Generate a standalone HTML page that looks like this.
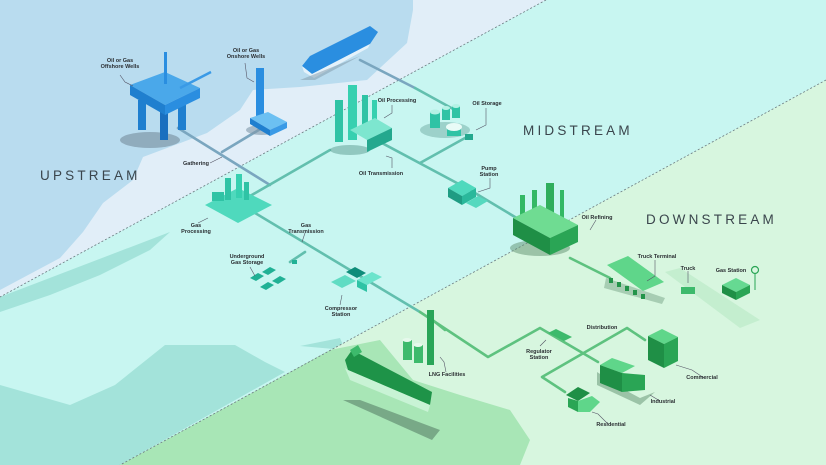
<!DOCTYPE html>
<html><head><meta charset="utf-8"><style>
html,body{margin:0;padding:0;background:#c8f6f1;}
svg{display:block}
.l{font-family:"Liberation Sans",sans-serif;font-size:5.5px;fill:#2b2f33;font-weight:bold;text-anchor:middle}
.s{font-family:"Liberation Sans",sans-serif;font-size:13.5px;fill:#3a454c;letter-spacing:3.2px}
.ld{stroke:#556;stroke-width:.6;fill:none}
</style></head><body>
<svg width="826" height="465" viewBox="0 0 826 465" xmlns="http://www.w3.org/2000/svg">
<!-- midstream base -->
<rect width="826" height="465" fill="#c8f6f1"/>
<!-- upstream zone -->
<polygon points="0,0 546,0 0,297" fill="#e1eef8"/>
<polygon points="0,0 413,0 413,10 407,43 367,80 300,87 253,90 240,110 207,133 143,157 133,180 103,203 83,232 60,258 0,290" fill="#b9dcef"/>
<!-- midstream darker areas -->
<polygon points="0,297 170,232 150,250 100,275 50,295 0,312" fill="#a3e3da"/>
<polygon points="0,385 70,405 115,385 165,345 235,345 265,362 285,372 120,465 0,465" fill="#a3e3da"/>
<polygon points="300,346 340,338 345,350" fill="#a3e3da"/>
<!-- downstream -->
<polygon points="826,80 826,465 120,465" fill="#d7f6df"/>
<polygon points="120,465 290,372 330,350 380,340 413,380 460,395 510,410 530,440 520,465" fill="#a8e6b6"/>
<!-- dashed boundaries -->
<line x1="546" y1="0" x2="0" y2="297" stroke="#6b7a80" stroke-width=".8" stroke-dasharray="2,2"/>
<line x1="826" y1="80" x2="120" y2="465" stroke="#6b7a80" stroke-width=".8" stroke-dasharray="2,2"/>

<!-- pipelines -->
<g fill="none" stroke-width="2.6" stroke-linecap="round" stroke-linejoin="round">
<path d="M178,128 L270,185" stroke="#7aa6bf"/>
<path d="M262,128 L222,152" stroke="#7aa6bf"/>
<path d="M360,60 L415,88" stroke="#7aa6bf"/>
<path d="M415,88 L455,110" stroke="#62bfae"/>
<path d="M250,196 L330,150" stroke="#62bfae"/>
<path d="M380,142 L470,190 L520,220" stroke="#62bfae"/>
<path d="M420,163 L465,138" stroke="#62bfae"/>
<path d="M250,210 L350,270 L420,312" stroke="#62bfae"/>
<path d="M290,262 L305,252" stroke="#62bfae"/>
<path d="M420,312 L488,357 L540,328 L598,362" stroke="#5ec27f"/>
<path d="M445,330 L430,318" stroke="#5ec27f"/>
<path d="M570,258 L610,278" stroke="#5ec27f"/>
<path d="M645,340 L627,328 L542,377 L565,392" stroke="#5ec27f"/>
</g>
<!-- road -->
<polygon points="665,272 680,268 760,320 740,328" fill="#bfeccb" opacity=".8"/>

<!-- offshore rig -->
<ellipse cx="150" cy="140" rx="30" ry="8" fill="#7f97a8" opacity=".7"/>
<rect x="138" y="100" width="8" height="30" fill="#1f7fcf"/>
<rect x="178" y="100" width="8" height="30" fill="#1f7fcf"/>
<rect x="160" y="110" width="8" height="30" fill="#1a6fbf"/>
<polygon points="130,85 165,72 200,88 165,105" fill="#4aa8ea"/>
<polygon points="130,85 165,105 165,115 130,95" fill="#1f7fcf"/>
<polygon points="165,105 200,88 200,98 165,115" fill="#2a8ee0"/>
<rect x="164" y="52" width="3" height="32" fill="#2a8ee0"/>
<line x1="180" y1="88" x2="211" y2="72" stroke="#3a9ae6" stroke-width="2.5"/>
<!-- onshore -->
<ellipse cx="262" cy="130" rx="16" ry="5" fill="#7f97a8" opacity=".6"/>
<rect x="256" y="68" width="8" height="50" fill="#2a8ee0"/>
<polygon points="250,118 268,112 287,122 270,130" fill="#6cc0f2"/>
<polygon points="250,118 270,130 270,136 250,124" fill="#1f7fcf"/>
<polygon points="270,130 287,122 287,128 270,136" fill="#3a9ae6"/>
<!-- top ship -->
<polygon points="302,66 310,56 370,26 378,32 370,44 312,74" fill="#2a8ee0"/>
<polygon points="302,66 312,74 370,44 368,48 314,78 304,72" fill="#e4f2fb"/>
<polygon points="300,80 315,80 360,56" fill="#7f97a8" opacity=".5"/>

<!-- oil processing -->
<ellipse cx="350" cy="150" rx="20" ry="5" fill="#5a9a90" opacity=".5"/>
<rect x="335" y="100" width="8" height="42" fill="#2fc3a5"/>
<rect x="348" y="85" width="9" height="55" fill="#37d0b0"/>
<rect x="362" y="95" width="6" height="40" fill="#2fc3a5"/>
<rect x="372" y="100" width="5" height="30" fill="#37d0b0"/>
<polygon points="350,130 375,118 392,128 367,140" fill="#7de6cf"/>
<polygon points="367,140 392,128 392,140 367,152" fill="#24a88e"/>
<!-- oil storage -->
<ellipse cx="445" cy="130" rx="25" ry="8" fill="#5a9a90" opacity=".4"/>
<rect x="430" y="112" width="10" height="16" fill="#2fc3a5"/><ellipse cx="435" cy="112" rx="5" ry="2.5" fill="#b5f2e5"/>
<rect x="442" y="108" width="8" height="12" fill="#2fc3a5"/><ellipse cx="446" cy="108" rx="4" ry="2" fill="#b5f2e5"/>
<rect x="452" y="106" width="8" height="12" fill="#2fc3a5"/><ellipse cx="456" cy="106" rx="4" ry="2" fill="#b5f2e5"/>
<rect x="447" y="126" width="14" height="10" fill="#2fc3a5"/><ellipse cx="454" cy="127" rx="8" ry="4" fill="#e9fbf7"/>
<rect x="465" y="134" width="8" height="6" fill="#24a88e"/>
<!-- pump station -->
<polygon points="448,188 462,180 476,188 462,196" fill="#4fd9bd"/>
<polygon points="448,188 462,196 462,205 448,197" fill="#1f9c83"/>
<polygon points="462,196 476,188 476,197 462,205" fill="#2ab89b"/>
<polygon points="466,203 478,196 488,201 476,208" fill="#56d9bf"/>
<!-- gas processing -->
<polygon points="205,205 238,188 272,205 238,223" fill="#4fd9bd"/>
<rect x="225" y="178" width="6" height="22" fill="#2fc3a5"/>
<rect x="236" y="174" width="6" height="24" fill="#37d0b0"/>
<rect x="244" y="182" width="5" height="18" fill="#2fc3a5"/>
<rect x="212" y="192" width="12" height="9" fill="#2fc3a5"/>
<!-- underground gas storage -->
<g fill="#20b195">
<polygon points="250,278 258,273 264,276 256,281"/>
<polygon points="262,272 270,267 276,270 268,275"/>
<polygon points="260,287 268,282 274,285 266,290"/>
<polygon points="272,281 280,276 286,279 278,284"/>
<rect x="292" y="260" width="5" height="4"/>
</g>
<!-- compressor -->
<polygon points="331,282 345,275 356,281 342,288" fill="#60dcc3"/>
<polygon points="346,272 355,267 366,273 357,278" fill="#0f8d7a"/>
<polygon points="357,280 372,272 382,277 367,285" fill="#6ce4cc"/>
<polygon points="357,280 367,285 367,292 357,287" fill="#2fc3a5"/>
<!-- LNG -->
<rect x="427" y="310" width="7" height="55" fill="#29a558"/>
<rect x="403" y="340" width="9" height="20" fill="#3dba6c"/><ellipse cx="407" cy="340" rx="4.5" ry="2" fill="#e6f9ec"/>
<rect x="414" y="345" width="9" height="18" fill="#3dba6c"/><ellipse cx="418" cy="345" rx="4.5" ry="2" fill="#e6f9ec"/>
<!-- lower ship -->
<polygon points="343,400 360,400 440,430 432,440" fill="#6b9a7c" opacity=".8"/>
<polygon points="345,360 352,350 432,392 430,405 348,370" fill="#1e9348"/>
<polygon points="345,368 348,370 430,405 428,412 350,380" fill="#c8f3d5"/>
<polygon points="350,350 358,345 362,352 354,357" fill="#3dba6c"/>
<!-- refining -->
<ellipse cx="540" cy="248" rx="30" ry="8" fill="#5f9070" opacity=".5"/>
<rect x="520" y="195" width="5" height="25" fill="#33b865"/>
<rect x="532" y="190" width="5" height="30" fill="#33b865"/>
<rect x="546" y="183" width="8" height="35" fill="#2fae5c"/>
<rect x="560" y="190" width="4" height="28" fill="#33b865"/>
<polygon points="513,218 540,205 578,225 550,238" fill="#6fdc92"/>
<polygon points="513,218 550,238 550,255 513,235" fill="#1f8f46"/>
<polygon points="550,238 578,225 578,242 550,255" fill="#2aa555"/>
<!-- truck terminal -->
<polygon points="606,278 665,298 662,304 604,288" fill="#5f9070" opacity=".4"/>
<polygon points="607,265 628,256 664,282 643,291" fill="#5fd68a"/>
<g fill="#23944a"><rect x="609" y="278" width="4" height="5"/><rect x="617" y="282" width="4" height="5"/><rect x="625" y="286" width="4" height="5"/><rect x="633" y="290" width="4" height="5"/><rect x="641" y="294" width="4" height="5"/></g>
<!-- truck -->
<rect x="681" y="287" width="14" height="7" fill="#3dba6c"/>
<!-- gas station -->
<polygon points="722,285 736,278 750,285 736,292" fill="#66d992"/>
<polygon points="722,285 736,292 736,300 722,293" fill="#1f8f46"/>
<polygon points="736,292 750,285 750,293 736,300" fill="#2aa555"/>
<circle cx="755" cy="270" r="3.5" fill="none" stroke="#2aa555" stroke-width="1.2"/>
<line x1="755" y1="274" x2="755" y2="290" stroke="#2aa555"/>
<!-- regulator -->
<polygon points="548,333 556,329 572,337 564,341" fill="#3dba6c"/>
<!-- commercial -->
<polygon points="648,336 662,329 678,337 664,344" fill="#5fd68a"/>
<polygon points="648,336 664,344 664,368 648,360" fill="#1f8f46"/>
<polygon points="664,344 678,337 678,361 664,368" fill="#2aa555"/>
<!-- industrial -->
<polygon points="597,372 625,390 640,398 655,392 640,405 597,385" fill="#5f9070" opacity=".5"/>
<polygon points="600,365 612,358 635,366 622,373" fill="#5fd68a"/>
<polygon points="600,365 622,373 622,392 600,383" fill="#1f8f46"/>
<polygon points="622,373 645,375 645,390 622,392" fill="#2aa555"/>
<!-- residential -->
<polygon points="566,395 578,387 590,393 578,401" fill="#1f8f46"/>
<polygon points="568,398 578,401 578,412 568,407" fill="#2aa555"/>
<polygon points="578,401 592,396 600,402 590,412 578,412" fill="#5fd68a"/>

<!-- leaders -->
<path class="ld" d="M120,75 L125,82 L133,86"/>
<path class="ld" d="M245,63 L247,78 L254,82"/>
<path class="ld" d="M210,163 L222,157"/>
<path class="ld" d="M392,105 L392,113 L384,118"/>
<path class="ld" d="M486,108 L486,125 L476,130"/>
<path class="ld" d="M392,168 L392,158 L386,156"/>
<path class="ld" d="M490,178 L490,188 L478,192"/>
<path class="ld" d="M596,220 L590,230"/>
<path class="ld" d="M198,223 L208,218"/>
<path class="ld" d="M305,233 L302,242"/>
<path class="ld" d="M250,267 L255,276"/>
<path class="ld" d="M340,305 L342,295"/>
<path class="ld" d="M446,372 L444,362 L440,357"/>
<path class="ld" d="M540,346 L546,340"/>
<path class="ld" d="M655,260 L655,276 L647,281"/>
<path class="ld" d="M688,271 L688,283"/>
<path class="ld" d="M704,378 L692,370 L676,365"/>
<path class="ld" d="M660,401 L650,395"/>
<path class="ld" d="M608,424 L598,414 L592,412"/>

<!-- labels -->
<text class="l" x="120" y="62">Oil or Gas</text><text class="l" x="120" y="68">Offshore Wells</text>
<text class="l" x="246" y="52">Oil or Gas</text><text class="l" x="246" y="58">Onshore Wells</text>
<text class="l" x="196" y="165">Gathering</text>
<text class="l" x="397" y="102">Oil Processing</text>
<text class="l" x="487" y="105">Oil Storage</text>
<text class="l" x="381" y="175">Oil Transmission</text>
<text class="l" x="489" y="170">Pump</text><text class="l" x="489" y="176">Station</text>
<text class="l" x="597" y="219">Oil Refining</text>
<text class="l" x="196" y="227">Gas</text><text class="l" x="196" y="233">Processing</text>
<text class="l" x="306" y="227">Gas</text><text class="l" x="306" y="233">Transmission</text>
<text class="l" x="247" y="258">Underground</text><text class="l" x="247" y="264">Gas Storage</text>
<text class="l" x="341" y="310">Compressor</text><text class="l" x="341" y="316">Station</text>
<text class="l" x="447" y="376">LNG Facilities</text>
<text class="l" x="539" y="353">Regulator</text><text class="l" x="539" y="359">Station</text>
<text class="l" x="602" y="329">Distribution</text>
<text class="l" x="657" y="258">Truck Terminal</text>
<text class="l" x="688" y="270">Truck</text>
<text class="l" x="731" y="272">Gas Station</text>
<text class="l" x="702" y="379">Commercial</text>
<text class="l" x="663" y="403">Industrial</text>
<text class="l" x="611" y="426">Residential</text>

<text class="s" x="40" y="180">UPSTREAM</text>
<text class="s" x="523" y="135">MIDSTREAM</text>
<text class="s" x="646" y="224">DOWNSTREAM</text>
</svg>
</body></html>
